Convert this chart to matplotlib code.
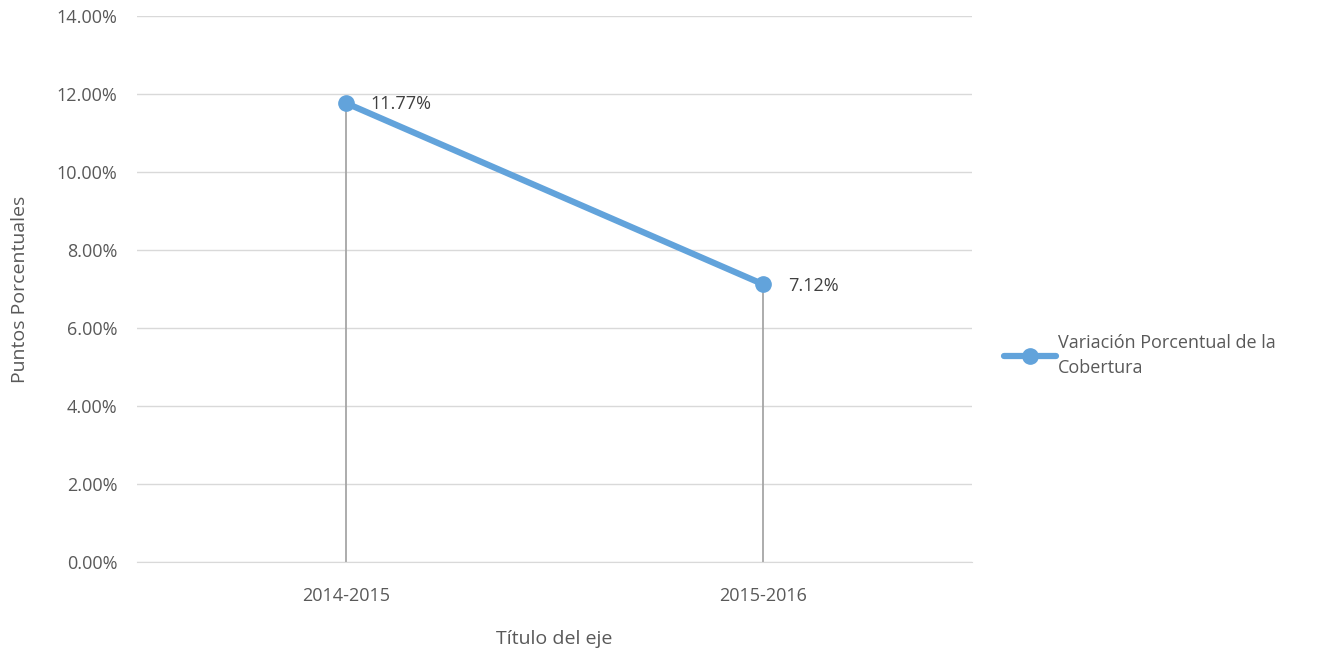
import matplotlib
matplotlib.use('Agg')
import matplotlib.pyplot as plt
from matplotlib.ticker import FuncFormatter

# Datos
periodos = ['2014-2015', '2015-2016']
variacion = [11.77, 7.12]
serie = 'Variación Porcentual de la\nCobertura'

gris_texto = '#595959'
azul = '#62A3DB'

plt.rcParams['font.family'] = ['Open Sans', 'DejaVu Sans']
plt.rcParams['font.size'] = 13

fig = plt.figure(figsize=(13.26, 6.48), dpi=100)
ax = fig.add_axes([0.1033, 0.1327, 0.6297, 0.8426])

x = list(range(len(periodos)))

# Líneas de caída
for xi, yi in zip(x, variacion):
    ax.plot([xi, xi], [0, yi], color='#A6A6A6', lw=1.3, zorder=2)

ax.plot(x, variacion, color=azul, lw=4.5, marker='o', markersize=11,
        label=serie, zorder=3, solid_capstyle='round')

for xi, yi in zip(x, variacion):
    ax.annotate(f'{yi:.2f}%', (xi, yi), xytext=(18, -1), textcoords='offset points',
                ha='left', va='center', color='#404040', fontsize=13)

ax.set_xlim(-0.5, 1.5)
ax.set_ylim(0, 14)
ax.set_yticks(range(0, 15, 2))
ax.yaxis.set_major_formatter(FuncFormatter(lambda v, p: f'{v:.2f}%'))
ax.set_xticks(x)
ax.set_xticklabels(periodos)
ax.grid(axis='y', color='#D9D9D9', lw=1)
ax.set_axisbelow(True)
for s in ['top', 'right', 'left']:
    ax.spines[s].set_visible(False)
ax.spines['bottom'].set_color('#D9D9D9')
ax.tick_params(length=0, colors=gris_texto, labelsize=13, pad=14)
ax.tick_params(axis='x', pad=18)

ax.set_xlabel('Título del eje', color=gris_texto, fontsize=14, labelpad=18)
ax.set_ylabel('Puntos Porcentuales', color=gris_texto, fontsize=14, labelpad=20)

leg = fig.legend(loc='center left', bbox_to_anchor=(0.745, 0.452), frameon=False,
                 handlelength=2.9, handletextpad=0.1, fontsize=13)
for t in leg.get_texts():
    t.set_color(gris_texto)
    t.set_linespacing(1.5)

fig.savefig('out.png', dpi=100)
